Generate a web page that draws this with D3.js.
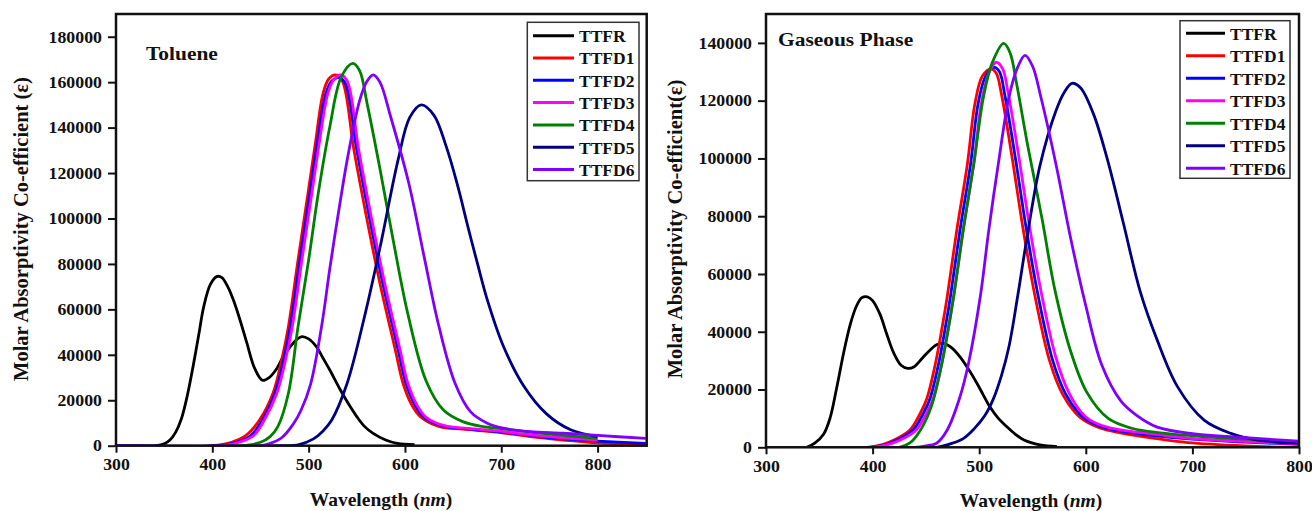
<!DOCTYPE html>
<html>
<head>
<meta charset="utf-8">
<script src="https://cdn.jsdelivr.net/npm/d3@7"></script>
<style>
  body { margin: 0; background: #fff; }
  svg { display: block; }
  text { font-family: "Liberation Serif", "Times New Roman", serif; font-weight: bold; fill: #111; }
</style>
</head>
<body>
<svg id="chart" width="1312" height="511"></svg>
<script>
// ---------- DATA ----------
const seriesNames = ["TTFR", "TTFD1", "TTFD2", "TTFD3", "TTFD4", "TTFD5", "TTFD6"];
const seriesColors = ["#000000", "#ff0000", "#0000ff", "#ff00ff", "#008000", "#000080", "#8000ff"];

const xTicksToluene = [300, 400, 500, 600, 700, 800];
const yTicksToluene = [0, 20000, 40000, 60000, 80000, 100000, 120000, 140000, 160000, 180000];
const xTicksGas = [300, 400, 500, 600, 700, 800];
const yTicksGas = [0, 20000, 40000, 60000, 80000, 100000, 120000, 140000];

// Toluene  [wavelength nm, molar absorptivity]
const tolTTFR = [[300,0],[342,0],[350,800],[356,2500],[362,6000],[368,12000],[374,22000],[380,34800],[386,49000],[391,61000],[398,71000],[405,74500],[410,74000],[416,70000],[422,64000],[429,55000],[436,45000],[444,34000],[452,28800],[459,30000],[467,34000],[474,39500],[481,43600],[487,46500],[493,48000],[500,47000],[508,43600],[515,38500],[522,33300],[533,24500],[542,18000],[550,12800],[558,8500],[567,5400],[580,2500],[592,1000],[610,500]];
const tolTTFD1 = [[300,0],[400,0],[420,1500],[435,4500],[449,11300],[463,23100],[472,37700],[479,52400],[489,81700],[500,113000],[507,133100],[515,155100],[521,161500],[528,163200],[535,160500],[547,130200],[560,100800],[574,71500],[590,42100],[598,27500],[607,18000],[616,12800],[636,8400],[660,7300],[695,6000],[730,4000],[764,2500],[800,1200],[850,300]];
const tolTTFD2 = [[300,0],[405,0],[425,1500],[440,4500],[452,11300],[465,23100],[474,37700],[481,52400],[491,81700],[502,113000],[509,133100],[518,155100],[524,160500],[531,162000],[538,159500],[550,130200],[563,100800],[577,71500],[593,42100],[601,27500],[611,17500],[620,12500],[640,8600],[665,7400],[695,6200],[730,4500],[764,3000],[800,2000],[850,1000]];
const tolTTFD3 = [[300,0],[410,0],[428,1500],[443,4500],[454,11300],[467,23100],[476,37700],[483,52400],[493,81700],[504,113000],[511,133100],[520,155100],[526,161000],[533,163200],[540,160500],[552,130200],[565,100800],[579,71500],[595,42100],[603,27500],[613,17500],[622,12500],[641,8800],[665,7600],[695,6500],[730,4800],[764,3500],[800,2500]];
const tolTTFD4 = [[300,0],[430,0],[450,1500],[460,4000],[468,8400],[479,23100],[489,52400],[500,81700],[510,111100],[522,140400],[534,162400],[546,168300],[553,165000],[561,150000],[574,122000],[588,90000],[603,58000],[622,28500],[640,15700],[660,10600],[680,8500],[700,7500],[730,6000],[765,4500],[800,3200]];
const tolTTFD5 = [[300,0],[470,0],[490,500],[505,3000],[515,6500],[524,11300],[540,27500],[557,55000],[574,87000],[593,126000],[605,144500],[617,150000],[630,145500],[643,131500],[655,114000],[665,97000],[676,79000],[686,63500],[702,44000],[723,26500],[747,14000],[772,7000],[800,4000]];
const tolTTFD6 = [[300,0],[450,0],[460,1000],[472,3500],[484,9500],[492,15500],[502,27000],[514,54000],[522,78000],[533,108000],[541,128000],[553,152000],[560,160000],[567,163200],[574,160000],[585,145000],[604,115500],[620,83000],[635,53000],[652,27500],[668,15000],[685,10000],[702,7700],[730,6200],[764,5500],[800,4500],[850,3200]];

// Gaseous phase
const gasTTFR = [[300,0],[338,0],[346,1500],[354,4500],[360,10000],[366,20000],[373,33000],[379,42500],[385,49000],[390,51800],[395,52100],[400,50800],[407,46000],[413,39500],[420,32500],[427,28300],[433,27300],[439,27900],[447,31000],[454,33700],[460,35500],[467,36000],[474,34500],[482,31300],[490,27000],[498,22100],[504,18000],[510,14000],[518,10000],[526,7100],[534,4500],[542,2500],[557,800],[573,200]];
const gasTTFD1 = [[300,0],[395,0],[410,1000],[420,2500],[435,6000],[445,12000],[451,17000],[459,29100],[465,41000],[470,52100],[479,75200],[489,98300],[496,119000],[503,128500],[511,131000],[516,129500],[521,122000],[531,100000],[541,76000],[552,53000],[566,30000],[578,18500],[590,12000],[598,9400],[614,6600],[630,5200],[652,3800],[700,1500],[760,300],[800,0]];
const gasTTFD2 = [[300,0],[398,0],[413,1000],[423,2500],[438,6000],[448,12000],[454,17000],[462,29100],[468,41000],[473,52100],[482,75200],[492,98300],[499,119000],[506,128500],[514,131500],[519,130000],[524,122000],[534,100000],[544,76000],[555,53000],[569,30000],[581,18500],[593,12000],[601,9400],[617,6800],[635,5400],[655,4400],[700,2800],[750,1800],[800,1000]];
const gasTTFD3 = [[300,0],[400,0],[415,1000],[426,2500],[441,6000],[451,12000],[457,17000],[465,29100],[471,41000],[476,52100],[485,75200],[495,98300],[502,119000],[509,129500],[516,133300],[522,131000],[527,123000],[537,101000],[547,77000],[558,54000],[572,31000],[584,19000],[596,12000],[604,9400],[620,7000],[640,5600],[660,4800],[700,3000],[750,2000],[800,1200]];
const gasTTFD4 = [[300,0],[425,0],[435,1500],[445,6000],[455,14000],[465,29100],[476,52100],[485,75200],[495,98300],[504,121300],[512,132900],[523,139800],[529,136500],[535,126000],[546,103500],[559,79000],[571,54500],[586,33000],[601,19000],[621,10000],[644,6500],[670,5000],[700,4000],[750,2800],[800,1800]];
const gasTTFD5 = [[300,0],[460,0],[473,1200],[485,3000],[495,6300],[505,10800],[513,16500],[521,25000],[528,35000],[536,52100],[545,73000],[557,97500],[572,116500],[580,123000],[587,126000],[595,124500],[607,115600],[620,100000],[635,78000],[651,54000],[667,37100],[686,21000],[711,9400],[736,4800],[761,2500],[800,1400]];
const gasTTFD6 = [[300,0],[440,0],[450,500],[460,1400],[470,6000],[482,17500],[490,29100],[501,52100],[509,75200],[518,98300],[528,121300],[536,131500],[543,135700],[550,132000],[558,121000],[572,98000],[586,72000],[600,49000],[615,28500],[633,16000],[648,11000],[667,7000],[700,4700],[750,3300],[800,2100]];

const tolueneSeries = [tolTTFR, tolTTFD1, tolTTFD2, tolTTFD3, tolTTFD4, tolTTFD5, tolTTFD6];
const gasSeries = [gasTTFR, gasTTFD1, gasTTFD2, gasTTFD3, gasTTFD4, gasTTFD5, gasTTFD6];

// ---------- DRAW ----------
const svg = d3.select("#chart");

function panel(cfg) {
  const g = svg.append("g");
  const x = d3.scaleLinear().domain(cfg.xDomain).range([cfg.left, cfg.right]);
  const y = d3.scaleLinear().domain(cfg.yDomain).range([cfg.bottom, cfg.top]);

  const clipId = "clip" + cfg.id;
  svg.append("defs").append("clipPath").attr("id", clipId)
    .append("rect").attr("x", cfg.left).attr("y", cfg.top)
    .attr("width", cfg.right - cfg.left).attr("height", cfg.bottom - cfg.top);

  // lines
  const line = d3.line().x(d => x(d[0])).y(d => y(d[1])).curve(d3.curveCatmullRom.alpha(0.5));
  const lg = g.append("g").attr("clip-path", `url(#${clipId})`);
  cfg.series.forEach((s, i) => {
    lg.append("path").datum(s).attr("d", line)
      .attr("fill", "none").attr("stroke", seriesColors[i])
      .attr("stroke-width", 2.8).attr("stroke-linejoin", "round");
  });

  // axes
  const ax = g.append("g").attr("transform", `translate(0,${cfg.bottom})`)
    .call(d3.axisBottom(x).tickValues(cfg.xTicks).tickSize(7).tickSizeOuter(0).tickPadding(6).tickFormat(d3.format("d")));
  const ay = g.append("g").attr("transform", `translate(${cfg.left},0)`)
    .call(d3.axisLeft(y).tickValues(cfg.yTicks).tickSize(8).tickSizeOuter(0).tickPadding(5).tickFormat(d3.format("d")));
  [ax, ay].forEach(a => {
    a.select(".domain").remove();
    a.selectAll(".tick line").attr("stroke", "#111").attr("stroke-width", 2);
    a.selectAll(".tick text").attr("fill", "#111")
      .style("font-family", '"Liberation Serif", serif').style("font-weight", "bold")
      .style("font-size", "16.5px");
  });
  ax.selectAll(".tick text").attr("transform", "scale(1.08,1)");
  ay.selectAll(".tick text").attr("transform", "scale(1.08,1)");

  // frame
  g.append("rect").attr("x", cfg.left).attr("y", cfg.top)
    .attr("width", cfg.right - cfg.left).attr("height", cfg.bottom - cfg.top)
    .attr("fill", "none").attr("stroke", "#111").attr("stroke-width", 2.5);

  // panel title
  g.append("text").attr("x", cfg.titleX).attr("y", cfg.titleY)
    .attr("transform", `translate(${cfg.titleX},${cfg.titleY}) scale(1.1,1) translate(${-cfg.titleX},${-cfg.titleY})`)
    .style("font-size", "19.5px").text(cfg.title);

  // y title
  g.append("text").attr("transform", `translate(${cfg.yTitleX},${cfg.yTitleY}) rotate(-90)`)
    .attr("text-anchor", "middle").attr("dy", "0.35em")
    .style("font-size", "20.5px").text(cfg.yTitle);

  // x title
  const xt = g.append("text").attr("x", cfg.xTitleX).attr("y", cfg.xTitleY)
    .attr("text-anchor", "middle").style("font-size", "19.5px");
  xt.append("tspan").text("Wavelength (");
  xt.append("tspan").style("font-style", "italic").text("nm");
  xt.append("tspan").text(")");

  // legend
  const L = cfg.legend;
  g.append("rect").attr("x", L.x0).attr("y", L.y0).attr("width", L.x1 - L.x0).attr("height", L.y1 - L.y0)
    .attr("fill", "#fff").attr("stroke", "#333").attr("stroke-width", 1.5);
  seriesNames.forEach((n, i) => {
    const yy = L.row0 + i * L.step;
    g.append("line").attr("x1", L.lx0).attr("x2", L.lx1).attr("y1", yy).attr("y2", yy)
      .attr("stroke", seriesColors[i]).attr("stroke-width", 3);
    g.append("text").attr("x", L.tx).attr("y", yy).attr("dy", "0.36em")
      .style("font-size", "17.5px").text(n);
  });
}

panel({
  id: "tol", series: tolueneSeries,
  xDomain: [300, 851], yDomain: [0, 190000],
  left: 116, right: 646.7, top: 14, bottom: 445.7,
  xTicks: xTicksToluene, yTicks: yTicksToluene,
  title: "Toluene", titleX: 146, titleY: 60,
  yTitle: "Molar Absorptivity Co-efficient (\u03b5)", yTitleX: 21, yTitleY: 229,
  xTitleX: 381, xTitleY: 506,
  legend: { x0: 527.3, x1: 639, y0: 22.3, y1: 180.7, lx0: 533, lx1: 574, tx: 579, row0: 35.7, step: 22.3 }
});

panel({
  id: "gas", series: gasSeries,
  xDomain: [300, 800], yDomain: [0, 150000],
  left: 766, right: 1299, top: 14, bottom: 447.3,
  xTicks: xTicksGas, yTicks: yTicksGas,
  title: "Gaseous Phase", titleX: 778, titleY: 46,
  yTitle: "Molar Absorptivity Co-efficient(\u03b5)", yTitleX: 675, yTitleY: 229,
  xTitleX: 1031, xTitleY: 507,
  legend: { x0: 1180, x1: 1290, y0: 20.7, y1: 178.3, lx0: 1186, lx1: 1225, tx: 1230, row0: 33.3, step: 22.5 }
});
</script>
</body>
</html>
